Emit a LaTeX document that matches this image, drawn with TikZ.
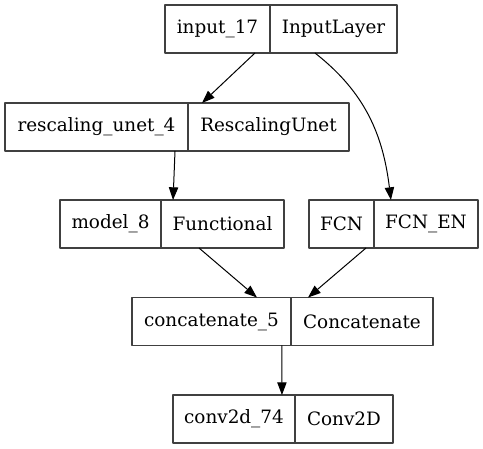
\documentclass[tikz,border=0pt]{standalone}
\usepackage{fontspec}
\setmainfont{DejaVu Serif}
\usetikzlibrary{positioning,calc,arrows.meta}
\begin{document}
\begin{tikzpicture}[x=0.75pt,y=-0.75pt,>={Triangle[length=9.5pt,width=7pt]},line join=round,
	cell/.style={draw=black!75,line width=0.9pt,rectangle,minimum height=48*0.75pt,inner sep=0pt,outer sep=0pt,font=\fontsize{13.8}{15}\selectfont},
	link/.style={->,line width=0.75pt}]
	\useasboundingbox (0,0) rectangle (483,449);
	% layers: name cell, then type cell to its right
	\node[cell,minimum width=105*0.75pt] (in) at (217.5,29) {input\_17};
	\node[cell,minimum width=127*0.75pt,right=0pt of in] (inT) {InputLayer};
	\node[cell,minimum width=183*0.75pt] (resc) at (96.5,127) {rescaling\_unet\_4};
	\node[cell,minimum width=161*0.75pt,right=0pt of resc] (rescT) {RescalingUnet};
	\node[cell,minimum width=101*0.75pt] (model) at (110.5,224) {model\_8};
	\node[cell,minimum width=123*0.75pt,right=0pt of model] (modelT) {Functional};
	\node[cell,minimum width=65*0.75pt] (fcn) at (341.5,224) {FCN};
	\node[cell,minimum width=104*0.75pt,right=0pt of fcn] (fcnT) {FCN\_EN};
	\node[cell,minimum width=159*0.75pt] (cat) at (211.5,321.5) {concatenate\_5};
	\node[cell,minimum width=142*0.75pt,right=0pt of cat] (catT) {Concatenate};
	\node[cell,minimum width=122*0.75pt] (conv) at (234,419) {conv2d\_74};
	\node[cell,minimum width=98*0.75pt,right=0pt of conv] (convT) {Conv2D};
	% connections
	\draw[link] ($(in.south west)!0.857!(in.south east)$) -- ($(rescT.north west)!0.087!(rescT.north east)$);
	\draw[link] ($(inT.south west)!0.354!(inT.south east)$) to[out=-38,in=97] ($(fcnT.north west)!0.163!(fcnT.north east)$);
	\draw[link] ($(resc.south west)!0.929!(resc.south east)$) -- ($(modelT.north west)!0.098!(modelT.north east)$);
	\draw[link] ($(modelT.south west)!0.309!(modelT.south east)$) -- ($(cat.north west)!0.786!(cat.north east)$);
	\draw[link] ($(fcn.south west)!0.877!(fcn.south east)$) -- ($(catT.north west)!0.12!(catT.north east)$);
	\draw[link] ($(cat.south west)!0.943!(cat.south east)$) -- ($(conv.north west)!0.893!(conv.north east)$);
\end{tikzpicture}
\end{document}
